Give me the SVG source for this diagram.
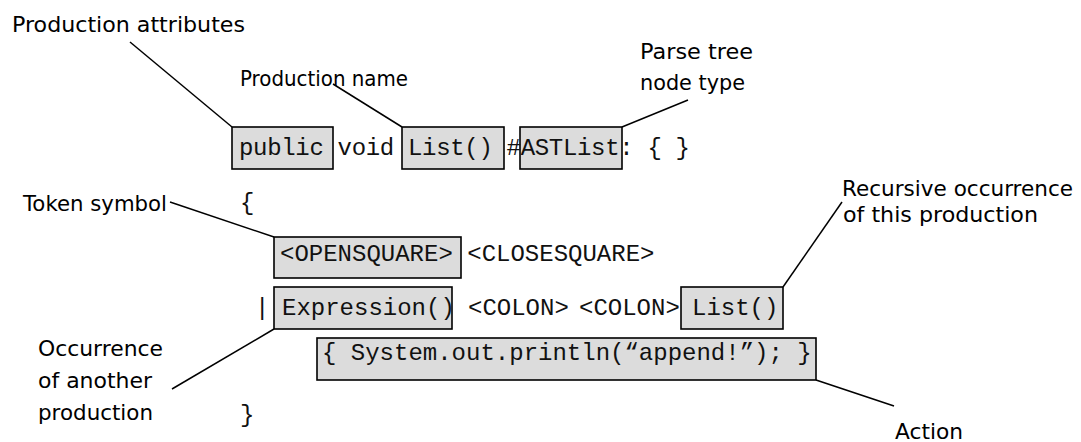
<svg xmlns="http://www.w3.org/2000/svg" width="1081" height="442" viewBox="0 0 1081 442">
<style>
.bg{fill:#ffffff}
.box{fill:#dcdcdc;stroke:#000;stroke-width:1.6}
.code{font-family:"Liberation Mono","Courier New",monospace;font-size:24px;fill:#111}
.lbl{font-family:"DejaVu Sans","Liberation Sans",sans-serif;font-size:21px;fill:#000}
.conn line{stroke:#000;stroke-width:1.5}
</style>
<rect class="bg" x="0" y="0" width="1081" height="442"/>
<g id="boxes">
<rect id="box-public" class="box" x="232" y="127" width="101" height="42"/>
<rect id="box-list" class="box" x="402" y="127" width="102" height="42"/>
<rect id="box-astlist" class="box" x="520" y="127" width="102" height="42"/>
<rect id="box-opensquare" class="box" x="274" y="237" width="187" height="41"/>
<rect id="box-expression" class="box" x="274" y="287" width="178" height="42"/>
<rect id="box-list2" class="box" x="681" y="287" width="102" height="42"/>
<rect id="box-action" class="box" x="317" y="338" width="499" height="42"/>
</g>
<g id="code">
<text class="code" x="239" y="155" textLength="451" lengthAdjust="spacing">public void List() #ASTList: { }</text>
<text class="code" x="240" y="210">{</text>
<text class="code" x="280" y="261">&lt;OPENSQUARE&gt; &lt;CLOSESQUARE&gt;</text>
<text class="code" x="255" y="315">|</text>
<text class="code" x="282" y="315">Expression()</text>
<text class="code" x="468" y="315">&lt;COLON&gt;</text>
<text class="code" x="579" y="315">&lt;COLON&gt;</text>
<text class="code" x="692" y="315">List()</text>
<text class="code" x="322" y="360">{ System.out.println(“append!”); }</text>
<text class="code" x="240" y="422">}</text>
</g>
<g id="labels">
<g id="lbl-attributes"><text class="lbl" x="12" y="32" textLength="233" lengthAdjust="spacingAndGlyphs">Production attributes</text></g>
<g id="lbl-name"><text class="lbl" x="240" y="86" textLength="168" lengthAdjust="spacingAndGlyphs">Production name</text></g>
<g id="lbl-nodetype"><text class="lbl" x="640" y="59" textLength="113" lengthAdjust="spacingAndGlyphs">Parse tree</text><text class="lbl" x="640" y="90" textLength="105" lengthAdjust="spacingAndGlyphs">node type</text></g>
<g id="lbl-token"><text class="lbl" x="23" y="211" textLength="144" lengthAdjust="spacingAndGlyphs">Token symbol</text></g>
<g id="lbl-recursive"><text class="lbl" x="842" y="196" textLength="231" lengthAdjust="spacingAndGlyphs">Recursive occurrence</text><text class="lbl" x="843" y="222" textLength="195" lengthAdjust="spacingAndGlyphs">of this production</text></g>
<g id="lbl-occurrence"><text class="lbl" x="38" y="356" textLength="125" lengthAdjust="spacingAndGlyphs">Occurrence</text><text class="lbl" x="38" y="388" textLength="114" lengthAdjust="spacingAndGlyphs">of another</text><text class="lbl" x="38" y="420" textLength="115" lengthAdjust="spacingAndGlyphs">production</text></g>
<g id="lbl-action"><text class="lbl" x="895" y="439" textLength="68" lengthAdjust="spacingAndGlyphs">Action</text></g>
</g>
<g id="connectors" class="conn">
<line x1="130" y1="42" x2="232" y2="127"/>
<line x1="333" y1="84" x2="402" y2="127"/>
<line x1="688" y1="100" x2="622" y2="127"/>
<line x1="170" y1="202" x2="274" y2="237"/>
<line x1="842" y1="202" x2="783" y2="287"/>
<line x1="172" y1="389" x2="274" y2="329"/>
<line x1="816" y1="380" x2="894" y2="406"/>
</g>
</svg>
